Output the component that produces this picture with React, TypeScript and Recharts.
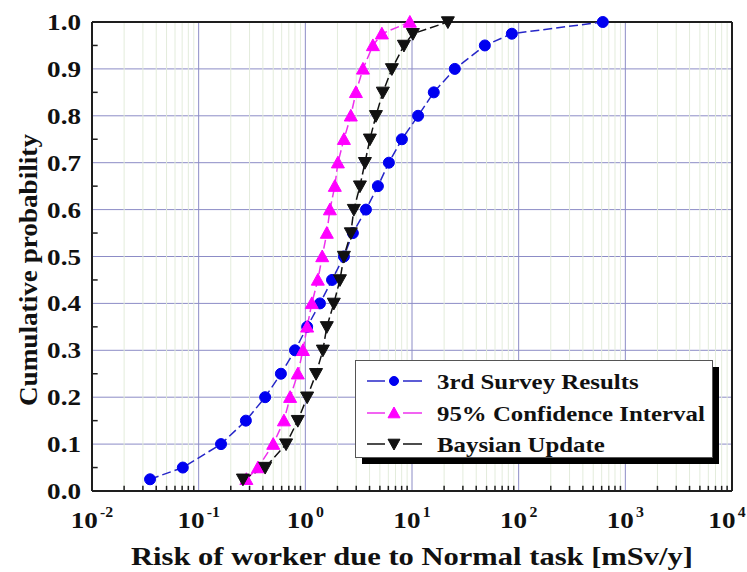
import React from 'react';
import { LineChart, Line, XAxis, YAxis, CartesianGrid, ReferenceLine } from 'recharts';

// cumulative probability levels shared by all three curves
const probabilities = [0.025, 0.05, 0.1, 0.15, 0.2, 0.25, 0.3, 0.35, 0.4, 0.45, 0.5, 0.55, 0.6, 0.65, 0.7, 0.75, 0.8, 0.85, 0.9, 0.95, 0.975, 1.0];

// risk values [mSv/y]
const surveyRisk = [0.035, 0.071, 0.162, 0.277, 0.42, 0.59, 0.8, 1.04, 1.37, 1.78, 2.3, 2.79, 3.7, 4.79, 6.07, 8.04, 11.4, 16.0, 25.2, 48.2, 86.3, 615];
const confidenceRisk = [0.28, 0.36, 0.5, 0.63, 0.72, 0.85, 0.95, 1.04, 1.15, 1.31, 1.44, 1.59, 1.7, 1.89, 2.02, 2.3, 2.67, 2.98, 3.47, 4.3, 5.22, 9.55];
const bayesianRisk = [0.26, 0.42, 0.66, 0.85, 1.04, 1.26, 1.46, 1.59, 1.85, 2.11, 2.3, 2.67, 2.85, 3.25, 3.62, 4.03, 4.59, 5.33, 6.48, 8.4, 10.2, 21.7];

const xTicks = [0.01, 0.1, 1, 10, 100, 1000, 10000];
const xTickExponents = ['-2', '-1', '0', '1', '2', '3', '4'];
const yTicks = [0, 0.1, 0.2, 0.3, 0.4, 0.5, 0.6, 0.7, 0.8, 0.9, 1.0];
const yMinorTicks = [0.05, 0.15, 0.25, 0.35, 0.45, 0.55, 0.65, 0.75, 0.85, 0.95];
const minorMultipliers = [2, 3, 4, 5, 6, 7, 8, 9];

const seriesNames = ['3rd Survey Results', '95% Confidence Interval', 'Baysian Update'];

const surveyData = probabilities.map((p, i) => ({ x: surveyRisk[i], p }));
const confidenceData = probabilities.map((p, i) => ({ x: confidenceRisk[i], p }));
const bayesianData = probabilities.map((p, i) => ({ x: bayesianRisk[i], p }));

const xMinor = xTicks
  .slice(0, -1)
  .flatMap((d) => minorMultipliers.map((m) => Number((d * m).toPrecision(6))));

const FONT = '"Liberation Serif", "Times New Roman", serif';
const STRETCH = 1.13;
const MAJOR_GRID = '#8c8cc6';
const MINOR_GRID = '#e3ecdc';
const FRAME = '#1e1e1e';

const BLUE_LINE = '#2626c8';
const BLUE_DOT = '#0000f0';
const PINK_LINE = '#ee30ee';
const PINK_DOT = '#ff00ff';
const BLACK = '#111111';

function Circle({ cx, cy, r = 5.5, fill }: any) {
  if (cx == null || cy == null) return null;
  return <circle cx={cx} cy={cy} r={r} fill={fill} stroke={fill} />;
}

function TriUp({ cx, cy, s = 6.5, fill }: any) {
  if (cx == null || cy == null) return null;
  return (
    <polygon
      points={`${cx},${cy - s} ${cx + s},${cy + s * 0.8} ${cx - s},${cy + s * 0.8}`}
      fill={fill}
      stroke={fill}
    />
  );
}

function TriDown({ cx, cy, s = 6.5, fill }: any) {
  if (cx == null || cy == null) return null;
  return (
    <polygon
      points={`${cx},${cy + s} ${cx + s},${cy - s * 0.8} ${cx - s},${cy - s * 0.8}`}
      fill={fill}
      stroke={fill}
    />
  );
}

function XTick({ x, y, payload }: any) {
  const i = xTicks.findIndex((t) => Math.abs(t - payload.value) / t < 1e-6);
  return (
    <g transform={`translate(${x},${y}) scale(${STRETCH},1)`}>
      <text x={0} y={37} textAnchor="middle" fontFamily={FONT} fontWeight="bold" fontSize={24} fill="#111">
        10
        <tspan dx={2} dy={-11} fontSize={14}>
          {xTickExponents[i]}
        </tspan>
      </text>
    </g>
  );
}

function YTick({ x, y, payload }: any) {
  return (
    <g transform={`translate(${x},${y}) scale(${STRETCH},1)`}>
      <text x={0} y={8} textAnchor="end" fontFamily={FONT} fontWeight="bold" fontSize={24} fill="#111">
        {payload.value.toFixed(1)}
      </text>
    </g>
  );
}

function XTitle({ viewBox }: any) {
  const cx = viewBox.x + viewBox.width / 2;
  return (
    <text
      x={cx}
      y={viewBox.y + viewBox.height - 7}
      textAnchor="middle"
      fontFamily={FONT}
      fontWeight="bold"
      fontSize={26}
      fill="#111"
      textLength={562}
      lengthAdjust="spacingAndGlyphs"
    >
      Risk of worker due to Normal task [mSv/y]
    </text>
  );
}

function YTitle() {
  return (
    <text
      x={37}
      y={270}
      transform="rotate(-90, 37, 270)"
      textAnchor="middle"
      fontFamily={FONT}
      fontWeight="bold"
      fontSize={26}
      fill="#111"
      textLength={272}
      lengthAdjust="spacingAndGlyphs"
    >
      Cumulative probability
    </text>
  );
}

function LegendBox() {
  const rowY = [21, 53, 84];
  const rows = [
    { name: seriesNames[0], line: BLUE_LINE, mark: <Circle cx={39} cy={rowY[0]} r={4.5} fill={BLUE_DOT} /> },
    { name: seriesNames[1], line: PINK_LINE, mark: <TriUp cx={39} cy={rowY[1]} s={6} fill={PINK_DOT} /> },
    { name: seriesNames[2], line: BLACK, mark: <TriDown cx={39} cy={rowY[2]} s={6} fill={BLACK} /> },
  ];
  return (
    <svg width={370} height={110} style={{ overflow: 'visible', display: 'block' }}>
      <rect x={7} y={7} width={357} height={97} fill="#000" />
      <rect x={0.5} y={0.5} width={357} height={97} fill="#fff" stroke="#555" />
      {rows.map((r, i) => (
        <g key={r.name}>
          <line x1={12} x2={30} y1={rowY[i]} y2={rowY[i]} stroke={r.line} strokeWidth={1.5} />
          <line x1={48} x2={67} y1={rowY[i]} y2={rowY[i]} stroke={r.line} strokeWidth={1.5} />
          {r.mark}
          <g transform={`translate(82,${rowY[i] + 8}) scale(${STRETCH},1)`}>
            <text x={0} y={0} fontFamily={FONT} fontWeight="bold" fontSize={22} fill="#111">
              {r.name}
            </text>
          </g>
        </g>
      ))}
    </svg>
  );
}

export default function App() {
  return (
    <div style={{ position: 'fixed', left: 0, top: 0, width: 747, height: 572, background: '#fff' }}>
      <LineChart width={747} height={572} margin={{ top: 22, right: 15, bottom: 0, left: 0 }}>
        <CartesianGrid stroke={MAJOR_GRID} strokeWidth={1} />
        {xMinor.map((v) => (
          <ReferenceLine key={`mg-${v}`} x={v} stroke={MINOR_GRID} strokeWidth={1} />
        ))}
        {xMinor.map((v) => (
          <ReferenceLine
            key={`mt-${v}`}
            segment={[{ x: v, y: 0 }, { x: v, y: 0.011 }]}
            stroke={FRAME}
            strokeWidth={1.5}
          />
        ))}
        {yMinorTicks.map((v) => (
          <ReferenceLine
            key={`ym-${v}`}
            segment={[{ x: 0.01, y: v }, { x: 0.0113, y: v }]}
            stroke={FRAME}
            strokeWidth={1.5}
          />
        ))}
        <ReferenceLine y={1} stroke={FRAME} strokeWidth={2} />
        <ReferenceLine x={10000} stroke={FRAME} strokeWidth={2} />
        <XAxis
          type="number"
          dataKey="x"
          scale="log"
          domain={[0.01, 10000]}
          ticks={xTicks}
          allowDataOverflow
          height={81}
          tickSize={0}
          tickMargin={0}
          tick={<XTick />}
          axisLine={{ stroke: FRAME, strokeWidth: 2 }}
          label={<XTitle />}
        />
        <YAxis
          type="number"
          dataKey="p"
          domain={[0, 1]}
          ticks={yTicks}
          width={92}
          tickSize={0}
          tickMargin={11}
          tick={<YTick />}
          axisLine={{ stroke: FRAME, strokeWidth: 2 }}
          label={<YTitle />}
        />
        <Line
          data={surveyData}
          dataKey="p"
          name={seriesNames[0]}
          stroke={BLUE_LINE}
          strokeWidth={1.5}
          strokeDasharray="9 4"
          dot={(props: any) => <Circle key={`c-${props.index}`} cx={props.cx} cy={props.cy} fill={BLUE_DOT} />}
          isAnimationActive={false}
        />
        <Line
          data={confidenceData}
          dataKey="p"
          name={seriesNames[1]}
          stroke={PINK_LINE}
          strokeWidth={1.5}
          strokeDasharray="9 4"
          dot={(props: any) => <TriUp key={`u-${props.index}`} cx={props.cx} cy={props.cy} fill={PINK_DOT} />}
          isAnimationActive={false}
        />
        <Line
          data={bayesianData}
          dataKey="p"
          name={seriesNames[2]}
          stroke={BLACK}
          strokeWidth={1.5}
          strokeDasharray="9 4"
          dot={(props: any) => <TriDown key={`d-${props.index}`} cx={props.cx} cy={props.cy} fill={BLACK} />}
          isAnimationActive={false}
        />
      </LineChart>
      <div style={{ position: 'absolute', left: 355, top: 360 }}>
        <LegendBox />
      </div>
    </div>
  );
}
